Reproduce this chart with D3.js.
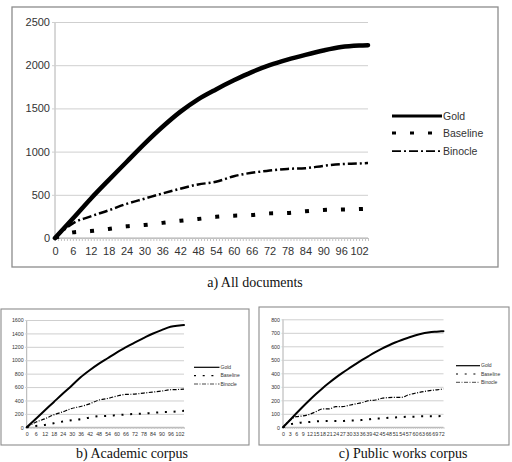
<!DOCTYPE html>
<html>
<head>
<meta charset="utf-8">
<script src="https://cdn.jsdelivr.net/npm/d3@7"></script>
<style>
  body { margin: 0; background: #fff; }
  svg { display: block; }
</style>
</head>
<body>
<svg width="512" height="462"></svg>
<script>
// ---- a) All documents ----
const allX = [0, 6, 12, 18, 24, 30, 36, 42, 48, 54, 60, 66, 72, 78, 84, 90, 96, 102, 105];
const allGold = [0, 225, 455, 670, 880, 1090, 1285, 1460, 1605, 1720, 1825, 1920, 2000, 2065, 2120, 2170, 2210, 2228, 2232];
const allBaseline = [0, 65, 80, 105, 135, 150, 175, 200, 220, 245, 258, 265, 285, 290, 310, 325, 330, 335, 340];
const allBinocle = [0, 170, 250, 320, 395, 455, 515, 570, 620, 650, 715, 755, 780, 800, 808, 835, 855, 862, 868];
const allYTicks = [0, 500, 1000, 1500, 2000, 2500];
const allXLabels = [0, 6, 12, 18, 24, 30, 36, 42, 48, 54, 60, 66, 72, 78, 84, 90, 96, 102];

// ---- b) Academic corpus ----
const acadX = [0, 6, 12, 18, 24, 30, 36, 42, 48, 54, 60, 66, 72, 78, 84, 90, 96, 102, 105];
const acadGold = [0, 125, 250, 375, 500, 620, 745, 850, 945, 1030, 1114, 1190, 1263, 1330, 1395, 1450, 1500, 1518, 1525];
const acadBaseline = [0, 20, 35, 60, 85, 105, 120, 145, 165, 170, 180, 190, 200, 205, 215, 225, 228, 240, 245];
const acadBinocle = [0, 75, 125, 185, 230, 280, 310, 350, 405, 430, 465, 490, 495, 510, 525, 540, 560, 565, 570];
const acadYTicks = [0, 200, 400, 600, 800, 1000, 1200, 1400, 1600];
const acadXLabels = [0, 6, 12, 18, 24, 30, 36, 42, 48, 54, 60, 66, 72, 78, 84, 90, 96, 102];

// ---- c) Public works corpus ----
const pwX = [0, 3, 6, 9, 12, 15, 18, 21, 24, 27, 30, 33, 36, 39, 42, 45, 48, 51, 54, 57, 60, 63, 66, 69, 72, 73];
const pwGold = [0, 50, 102, 152, 200, 246, 290, 330, 368, 403, 436, 468, 499, 528, 556, 582, 606, 628, 647, 664, 680, 693, 702, 708, 711, 712];
const pwBaseline = [0, 22, 29, 37, 39, 44, 46, 46, 46, 46, 51, 51, 54, 59, 66, 66, 71, 73, 76, 78, 78, 81, 81, 81, 83, 83];
const pwBinocle = [0, 50, 79, 84, 96, 116, 136, 136, 153, 153, 163, 173, 183, 198, 202, 215, 220, 222, 222, 240, 252, 262, 270, 276, 282, 285];
const pwYTicks = [0, 100, 200, 300, 400, 500, 600, 700, 800];
const pwXLabels = [0, 3, 6, 9, 12, 15, 18, 21, 24, 27, 30, 33, 36, 39, 42, 45, 48, 51, 54, 57, 60, 63, 66, 69, 72];

const seriesNames = ["Gold", "Baseline", "Binocle"];

const svg = d3.select("svg");

function drawPanel(p) {
    const g = svg.append("g");

    g.append("rect")
        .attr("x", p.frame[0]).attr("y", p.frame[1])
        .attr("width", p.frame[2] - p.frame[0])
        .attr("height", p.frame[3] - p.frame[1])
        .attr("fill", "none")
        .attr("stroke", "#8c8c8c")
        .attr("stroke-width", p.frameW);

    const x = d3.scaleLinear().domain([0, p.xMax]).range([p.left, p.right]);
    const y = d3.scaleLinear().domain([0, p.yMax]).range([p.bottom, p.top]);

    // y axis + gridlines
    const yAxis = g.append("g")
        .attr("transform", `translate(${p.left},0)`)
        .call(d3.axisLeft(y).tickValues(p.yTicks).tickFormat(d3.format("d"))
            .tickSize(-(p.right - p.left)).tickPadding(p.yPad));
    yAxis.select(".domain").attr("stroke", "#b0b0b0").attr("d", `M0,${p.top}V${p.bottom}`);
    yAxis.selectAll(".tick line").attr("x1", -p.tick).attr("stroke", "#cfcfcf");
    yAxis.selectAll(".tick text")
        .attr("font-family", "'Liberation Sans', Arial, sans-serif")
        .attr("font-size", p.font).attr("fill", "#333");

    // minor ticks along x
    const minor = g.append("g")
        .attr("transform", `translate(0,${p.bottom})`)
        .call(d3.axisBottom(x).tickValues(d3.range(0, p.xMax + 1)).tickSize(p.tick).tickFormat(""));
    minor.select(".domain").attr("stroke", "#b0b0b0").attr("d", `M${p.left},0H${p.right}`);
    minor.selectAll(".tick line").attr("stroke", "#c4c4c4");

    // x labels
    const xl = g.append("g")
        .attr("transform", `translate(0,${p.bottom})`)
        .call(d3.axisBottom(x).tickValues(p.xLabels).tickSize(0).tickPadding(p.xPad));
    xl.select(".domain").remove();
    xl.selectAll(".tick text")
        .attr("font-family", "'Liberation Sans', Arial, sans-serif")
        .attr("font-size", p.font).attr("fill", "#333");

    const line = d3.line()
        .x((d, i) => x(p.xs[i]))
        .y(d => y(d))
        .curve(d3.curveMonotoneX);

    const styles = [
        { w: p.goldW, dash: null, cap: "round" },
        { w: p.dotW, dash: p.dotDash, cap: "butt" },
        { w: p.binW, dash: p.binDash, cap: "butt" }
    ];

    [p.gold, p.baseline, p.binocle].forEach((vals, k) => {
        g.append("path")
            .datum(vals)
            .attr("d", line)
            .attr("fill", "none")
            .attr("stroke", "#000")
            .attr("stroke-width", styles[k].w)
            .attr("stroke-linecap", styles[k].cap)
            .attr("stroke-dasharray", styles[k].dash);
    });

    // legend
    seriesNames.forEach((name, k) => {
        const ly = p.legY[k];
        g.append("line")
            .attr("x1", p.legX[0]).attr("x2", p.legX[1])
            .attr("y1", ly).attr("y2", ly)
            .attr("stroke", "#000")
            .attr("stroke-width", styles[k].w * p.legScale)
            .attr("stroke-dasharray", styles[k].dash);
        g.append("text")
            .attr("x", p.legX[1] + 1)
            .attr("y", ly)
            .attr("dy", "0.35em")
            .attr("font-family", "'Liberation Sans', Arial, sans-serif")
            .attr("font-size", p.legFont)
            .attr("fill", "#333")
            .text(name);
    });

    // caption
    g.append("text")
        .attr("x", p.capX).attr("y", p.capY)
        .attr("text-anchor", "middle")
        .attr("font-family", "'Liberation Serif', 'Times New Roman', serif")
        .attr("font-size", 14)
        .attr("fill", "#111")
        .text(p.caption);
}

drawPanel({
    frame: [12, 7, 498, 267], frameW: 1.3,
    left: 55, right: 368, top: 22, bottom: 238,
    xMax: 105, yMax: 2500, yTicks: allYTicks, xLabels: allXLabels,
    xs: allX, gold: allGold, baseline: allBaseline, binocle: allBinocle,
    font: 11, yPad: 5, xPad: 9, tick: 3,
    goldW: 4.5, dotW: 4, dotDash: "4,14", binW: 2.5, binDash: "9,3,2,3",
    legX: [392, 442], legY: [116, 133, 151], legFont: 10.5, legScale: 0.7,
    caption: "a) All documents", capX: 255, capY: 287
});

drawPanel({
    frame: [1, 309, 249, 445], frameW: 1.1,
    left: 26.7, right: 184, top: 320, bottom: 427.3,
    xMax: 105, yMax: 1600, yTicks: acadYTicks, xLabels: acadXLabels,
    xs: acadX, gold: acadGold, baseline: acadBaseline, binocle: acadBinocle,
    font: 5.3, yPad: 3, xPad: 5, tick: 1.5,
    goldW: 2, dotW: 2, dotDash: "2,6.7", binW: 1.2, binDash: "4,1.5,1,1.5",
    legX: [194, 219.5], legY: [367.3, 375.7, 384], legFont: 5, legScale: 0.6,
    caption: "b) Academic corpus", capX: 132, capY: 458
});

drawPanel({
    frame: [259, 307, 509, 445], frameW: 1.1,
    left: 283, right: 443.5, top: 319.3, bottom: 427.3,
    xMax: 73, yMax: 800, yTicks: pwYTicks, xLabels: pwXLabels,
    xs: pwX, gold: pwGold, baseline: pwBaseline, binocle: pwBinocle,
    font: 5.3, yPad: 3, xPad: 5, tick: 1.5,
    goldW: 2, dotW: 2, dotDash: "2,6.7", binW: 1.2, binDash: "4,1.5,1,1.5",
    legX: [456, 480], legY: [365.7, 374, 382.3], legFont: 5, legScale: 0.6,
    caption: "c) Public works corpus", capX: 403, capY: 458
});
</script>
</body>
</html>
